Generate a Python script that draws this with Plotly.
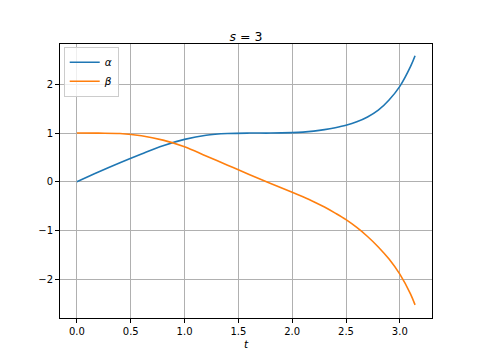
import plotly.graph_objects as go

t_vals = [0.0, 0.2, 0.4, 0.6, 0.8, 1.0, 1.2, 1.4, 1.6, 1.8, 2.0,
          2.1, 2.2, 2.3, 2.4, 2.5, 2.6, 2.7, 2.8, 2.9, 3.0, 3.1, 3.1416]
alpha = [0.0, 0.20, 0.39, 0.57, 0.74, 0.87, 0.955, 0.99, 1.0, 1.0, 1.01,
         1.02, 1.04, 1.07, 1.11, 1.16, 1.23, 1.33, 1.47, 1.68, 1.96, 2.37, 2.59]
beta = [1.0, 0.998, 0.99, 0.945, 0.855, 0.72, 0.53, 0.34, 0.15, -0.035, -0.215,
        -0.31, -0.41, -0.52, -0.645, -0.78, -0.94, -1.125, -1.34, -1.59, -1.90, -2.31, -2.53]

x_ticks = [0.0, 0.5, 1.0, 1.5, 2.0, 2.5, 3.0]
x_labels = ["0.0", "0.5", "1.0", "1.5", "2.0", "2.5", "3.0"]
y_ticks = [-2, -1, 0, 1, 2]
y_labels = ["\u22122", "\u22121", "0", "1", "2"]

font = "DejaVu Sans"

fig = go.Figure()
fig.add_trace(go.Scatter(x=t_vals, y=alpha, mode="lines", name="<i>α</i>",
                         line=dict(color="#1f77b4", width=1.6, shape="spline", smoothing=1.0)))
fig.add_trace(go.Scatter(x=t_vals, y=beta, mode="lines", name="<i>β</i>",
                         line=dict(color="#ff7f0e", width=1.6, shape="spline", smoothing=1.0)))

axis_common = dict(showline=True, linecolor="black", linewidth=1, mirror=True,
                   ticks="outside", ticklen=4, tickcolor="black", tickwidth=1,
                   showgrid=True, gridcolor="#b0b0b0", gridwidth=0.8, zeroline=False,
                   tickfont=dict(family=font, size=10, color="black"))

# page body has an 8px margin; figure is sized so the plot area lands at 60..432 x 44..320
fig.update_layout(
    width=472, height=352,
    margin=dict(l=52, r=48, t=36, b=40),
    paper_bgcolor="white", plot_bgcolor="white",
    title=dict(text="<i>s</i> = 3", x=0.5, xanchor="center", xref="paper",
               y=1 - 29 / 352, yanchor="middle",
               font=dict(family=font, size=12.5, color="black")),
    xaxis=dict(range=[-0.157, 3.299], tickvals=x_ticks, ticktext=x_labels,
               title=dict(text="<i>t</i>", font=dict(family=font, size=10.5, color="black"), standoff=4),
               **axis_common),
    yaxis=dict(range=[-2.80, 2.83], tickvals=y_ticks, ticktext=y_labels, **axis_common),
    legend=dict(x=0.01, y=0.99, xanchor="left", yanchor="top",
                bgcolor="rgba(255,255,255,0.8)", bordercolor="#cccccc", borderwidth=1,
                font=dict(family=font, size=10.5, color="black"),
                itemwidth=30, tracegroupgap=2),
    font=dict(family=font),
)

fig.write_html("out.html")
